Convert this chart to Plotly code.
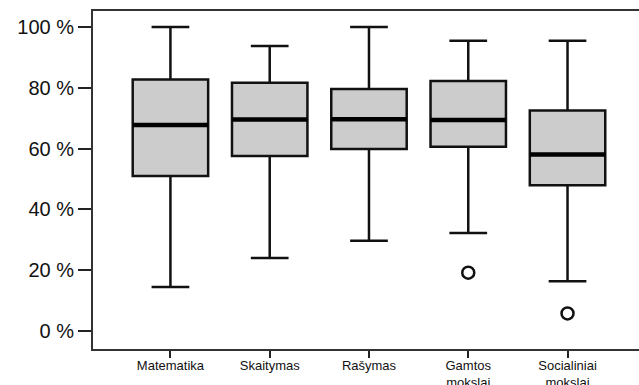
import plotly.graph_objects as go

# subject areas and box statistics (percent)
subjects = ["Matematika", "Skaitymas", "Rašymas", "Gamtos<br>mokslai", "Socialiniai<br>mokslai"]
lower_whisker = [14.5, 24, 29.7, 32.3, 16.4]
q1 = [51, 57.6, 59.9, 60.6, 48]
median = [67.8, 69.6, 69.7, 69.4, 58.1]
q3 = [82.8, 81.7, 79.6, 82.3, 72.6]
upper_whisker = [100, 93.8, 100, 95.5, 95.5]

# outliers: (subject index, value)
outlier_subject = [3, 4]
outlier_value = [19.2, 5.8]

y_ticks = [0, 20, 40, 60, 80, 100]
y_labels = ["0 %", "20 %", "40 %", "60 %", "80 %", "100 %"]

positions = list(range(len(subjects)))
box_w = 0.76

fig = go.Figure()

fig.add_trace(go.Box(
    x=positions,
    q1=q1, median=median, q3=q3,
    lowerfence=lower_whisker, upperfence=upper_whisker,
    width=box_w,
    whiskerwidth=0.5,
    fillcolor="#cccccc",
    line=dict(color="#111111", width=2.5),
    boxpoints=False,
    showlegend=False,
    hoverinfo="skip",
))

fig.add_trace(go.Scatter(
    x=outlier_subject, y=outlier_value,
    mode="markers",
    marker=dict(symbol="circle-open", size=12, color="#111111", line=dict(width=2.5)),
    showlegend=False,
))

# thicker median lines like SPSS
for i, m in zip(positions, median):
    fig.add_shape(type="line", xref="x", yref="y",
                  x0=i - box_w / 2, x1=i + box_w / 2, y0=m, y1=m,
                  line=dict(color="black", width=4.5))

fig.update_layout(
    width=639, height=385,
    margin=dict(l=93, r=0, t=11, b=36),
    paper_bgcolor="white",
    plot_bgcolor="white",
    font=dict(family="Liberation Sans, Arial", color="#111111"),
    xaxis=dict(
        range=[-0.78, 4.72],
        tickvals=positions, ticktext=subjects,
        tickfont=dict(size=13),
        ticklabelstandoff=-4,
        ticks="outside", ticklen=7, tickwidth=2, tickcolor="#222222",
        showline=True, linecolor="#333333", linewidth=2, mirror=True,
        showgrid=False, zeroline=False, automargin=False,
    ),
    yaxis=dict(
        range=[-5.9, 105.3],
        tickvals=y_ticks, ticktext=y_labels,
        tickfont=dict(size=20),
        ticks="outside", ticklen=13, tickwidth=2, tickcolor="#222222",
        showline=True, linecolor="#333333", linewidth=2,
        showgrid=False, zeroline=False, automargin=False,
    ),
)

# page without body margin so the 639x385 figure fills the window
fig.write_html("out.html",
               config={"displayModeBar": False},
               post_script="document.body.style.margin='0';document.body.style.overflow='hidden';")
